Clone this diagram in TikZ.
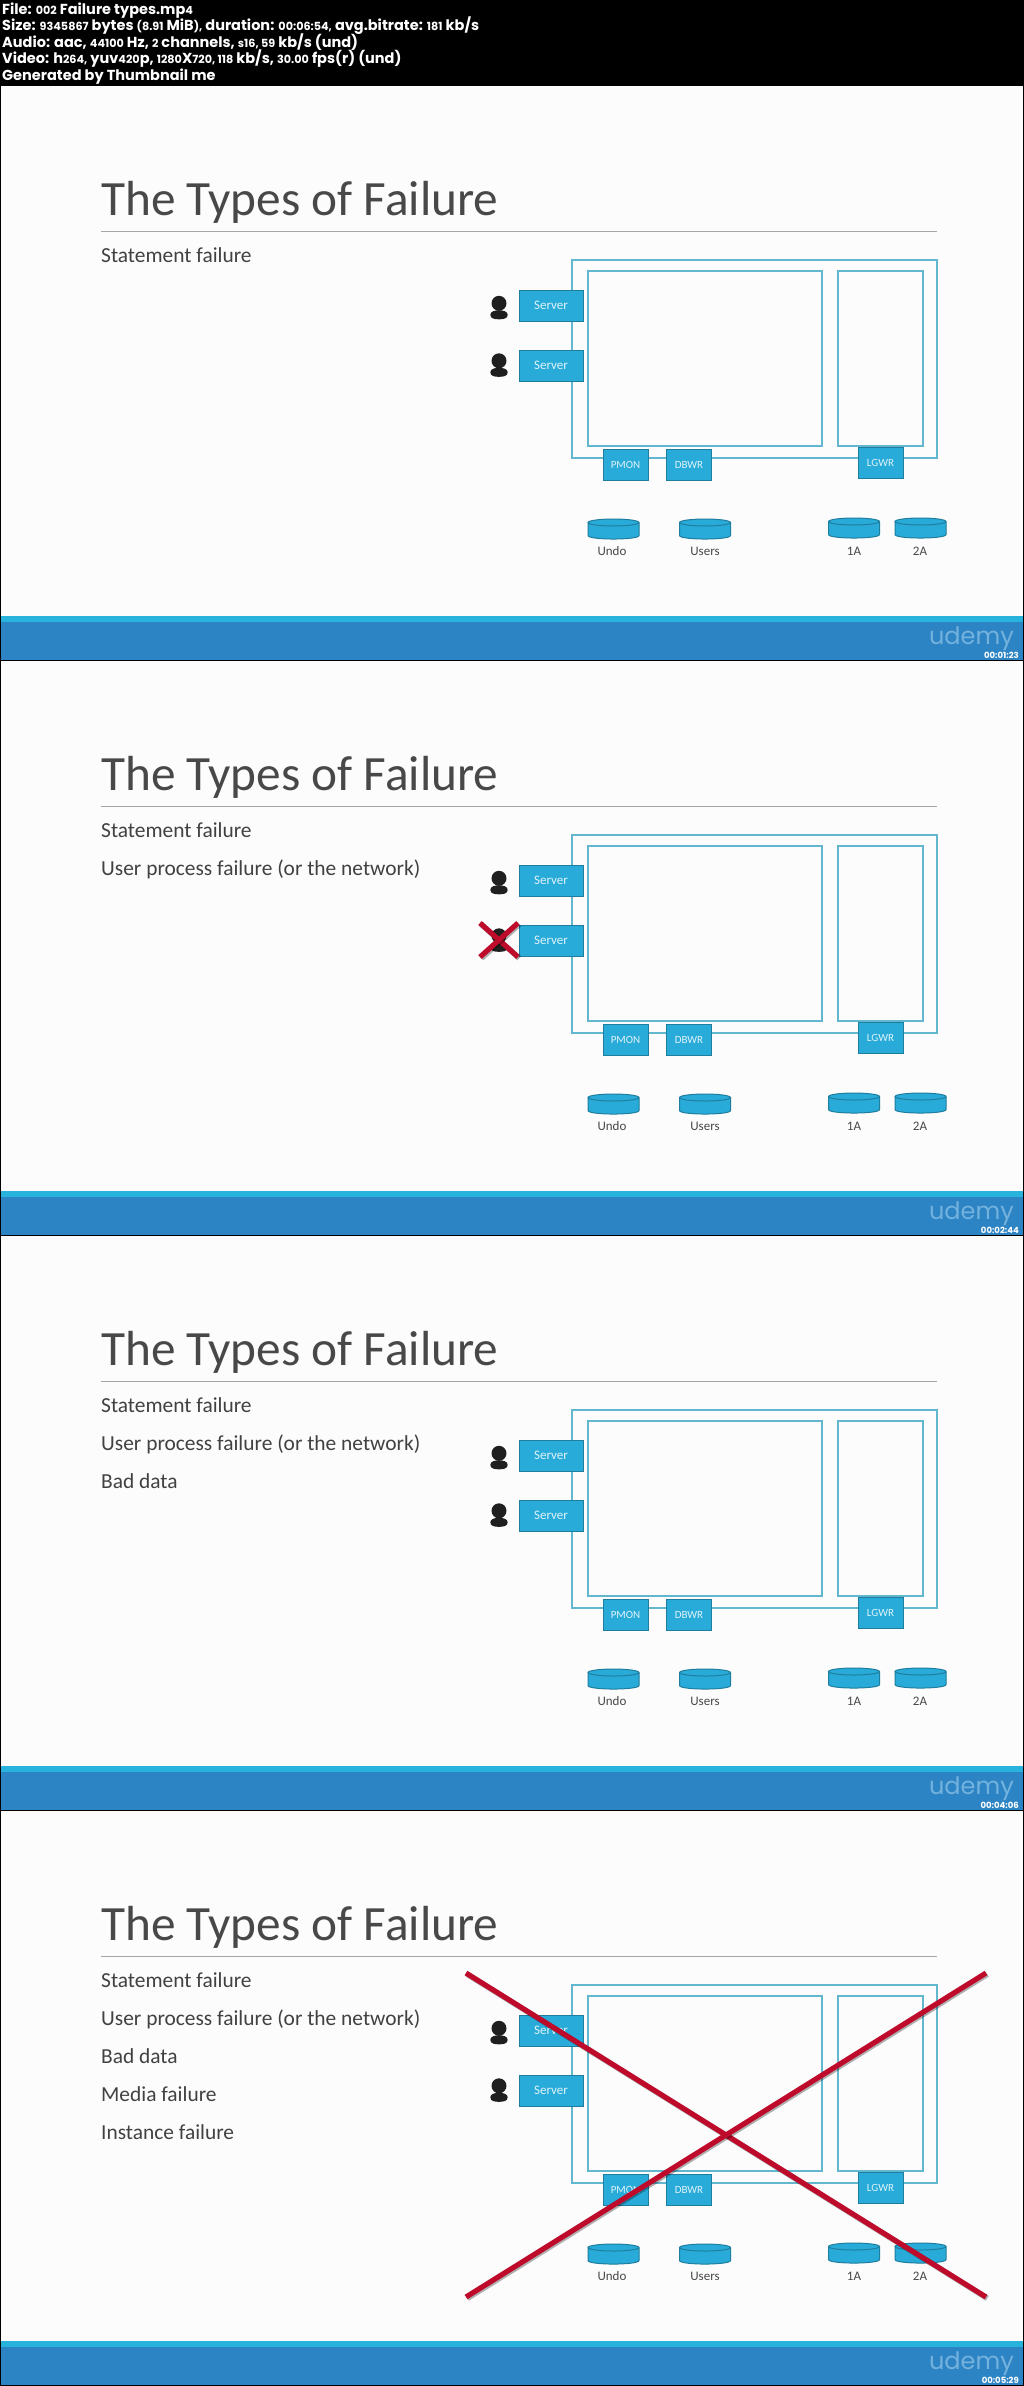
\documentclass[tikz,border=0pt]{standalone}
\usepackage{fontspec}
\setmainfont{Carlito}
\newfontfamily\hdrfont{Poppins}
\newfontfamily\logofont{Poppins}
\definecolor{boxblue}{HTML}{29ABDA}
\definecolor{boxedge}{HTML}{1F7E9E}
\definecolor{frameline}{HTML}{62B6CE}
\definecolor{bandblue}{HTML}{2D84C4}
\definecolor{bandcyan}{HTML}{27B3DC}
\definecolor{logoblue}{HTML}{74B2DE}
\definecolor{crossred}{HTML}{BE0B2B}
\definecolor{titlegrey}{HTML}{484848}
\newcommand{\hdg}[1]{{\fontsize{11.2}{11.2}\selectfont #1}}
\tikzset{
  hdrline/.style={anchor=base west,inner sep=0,text=white,font=\hdrfont\bfseries\fontsize{14.5}{14.5}\selectfont},
  titletxt/.style={anchor=base west,inner sep=0,text=titlegrey,font=\fontsize{49.3}{49.3}\selectfont},
  itemtxt/.style={anchor=base west,inner sep=0,text=titlegrey!90!black,font=\fontsize{21.4}{21.4}\selectfont},
  framebox/.style={draw=frameline,line width=1.4pt,fill=none},
  bluebox/.style={rectangle,draw=boxedge,line width=1pt,fill=boxblue,inner sep=0,text=white!85!boxblue},
  disklbl/.style={inner sep=0,text=titlegrey,font=\fontsize{13}{13}\selectfont},
  redcross/.style={draw=crossred,line width=5.2pt,
    preaction={draw=black,opacity=.3,line width=5.6pt,transform canvas={shift={(1.3pt,-1.3pt)}}}},
  person/.pic={
    \fill[black!88] (0,0) circle (7.5);
    \fill[black!88] (-8.7,11.5) .. controls (-8.7,8) and (-4,7) .. (0,7)
      .. controls (4,7) and (8.7,8) .. (8.7,11.5)
      .. controls (8.7,15.5) and (4,16) .. (0,16)
      .. controls (-4,16) and (-8.7,15.5) .. (-8.7,11.5) -- cycle;
  },
  dbdisk/.pic={
    \draw[draw=boxedge,fill=boxblue,line width=1pt] (-25.5,-6.5) -- (-25.5,6.5)
      .. controls (-25.5,11.2) and (25.5,11.2) .. (25.5,6.5) -- (25.5,-6.5);
    \draw[draw=boxedge,fill=boxblue,line width=1pt] (0,-6.5) ellipse (25.5 and 3.5);
  }
}
\begin{document}
\begin{tikzpicture}[x=1pt,y=-1pt]
  \useasboundingbox (0,0) rectangle (1024,2386);
  \fill[black] (0,0) rectangle (1024,2386);

  \foreach \hn/\hy/\htxt in {
    a/14/{File: \hdg{002} Failure types.mp\hdg{4}},
    b/30.5/{Size: \hdg{9345867} bytes \hdg{(8.91} MiB\hdg{),} duration: \hdg{00:06:54,} avg.bitrate: \hdg{181} kb/s},
    c/47/{Audio: aac, \hdg{44100} Hz, \hdg{2} channels, \hdg{s16, 59} kb/s (und)},
    d/63.5/{Video: h\hdg{264,} yuv\hdg{420}p, \hdg{1280}X\hdg{720, 118} kb/s, \hdg{30.00} fps(r) (und)},
    e/80/{Generated by Thumbnail me}}
    \node[hdrline] (hdr\hn) at (2,\hy) {\htxt};

  \foreach \f/\off/\nitems/\stamp in {1/0/1/00:01:23,2/575/2/00:02:44,3/1150/3/00:04:06,4/1725/5/00:05:29} {
    \begin{scope}[yshift=-\off pt]
      \fill[white!99!black] (1,86) rectangle (1023,616);
      \fill[bandcyan] (1,616) rectangle (1023,622);
      \fill[bandblue] (1,622) rectangle (1023,659.5);
      \node[anchor=base east,inner sep=0,text=logoblue,font=\logofont\fontsize{24}{24}\selectfont] (logo\f) at (1014,644) {udemy};
      \node[anchor=base east,inner sep=0,text=white,font=\hdrfont\bfseries\fontsize{8.5}{8.5}\selectfont] (time\f) at (1019,658) {\stamp};

      \node[titletxt] (title\f) at (101,215) {The Types of Failure};
      \draw[black!35,line width=.9pt] (101,231) -- (937,231);
      \foreach \itxt/\itemy [count=\i] in {Statement failure/262,User process failure (or the network)/300,Bad data/338,Media failure/376,Instance failure/414} {
        \ifnum\i>\nitems\else
          \node[itemtxt] (item\f-\i) at (101,\itemy) {\itxt};
        \fi
      }

      \draw[framebox] (572,260) rectangle (937,458);
      \draw[framebox] (588,271) rectangle (822,446);
      \draw[framebox] (838,271) rectangle (923,446);

      \foreach \n/\y/\py in {A/305.5/303.3,B/365.5/360.8} {
        \node[bluebox,minimum width=64pt,minimum height=31pt,font=\fontsize{13}{13}\selectfont] (server\n\f) at (551,\y) {Server};
        \pic at (499,\py) {person};
      }
      \foreach \n/\x/\y in {PMON/625.5/464.5,DBWR/689/464.5,LGWR/880.5/463}
        \node[bluebox,minimum width=45pt,minimum height=31pt,font=\fontsize{11}{11}\selectfont] (\n\f) at (\x,\y) {\n};

      \foreach \n/\x/\y/\lx in {Undo/613.5/529/612,Users/705/529/705,1A/854/528/854,2A/920.5/528/920}{
        \pic at (\x,\y) {dbdisk};
        \node[disklbl] (lbl\n\f) at (\lx,551) {\n};
      }
    \end{scope}
  }

  \coordinate (sa) at (480,923);
  \coordinate (sb) at (518,957);
  \coordinate (sc) at (480,957);
  \coordinate (sd) at (518,923);
  \draw[redcross] (sa) -- (sb);
  \draw[redcross] (sc) -- (sd);

  \coordinate (ba) at (466,1973);
  \coordinate (bb) at (986,2297);
  \coordinate (bc) at (466,2297);
  \coordinate (bd) at (986,1973);
  \draw[redcross] (ba) -- (bb);
  \draw[redcross] (bc) -- (bd);
\end{tikzpicture}
\end{document}
